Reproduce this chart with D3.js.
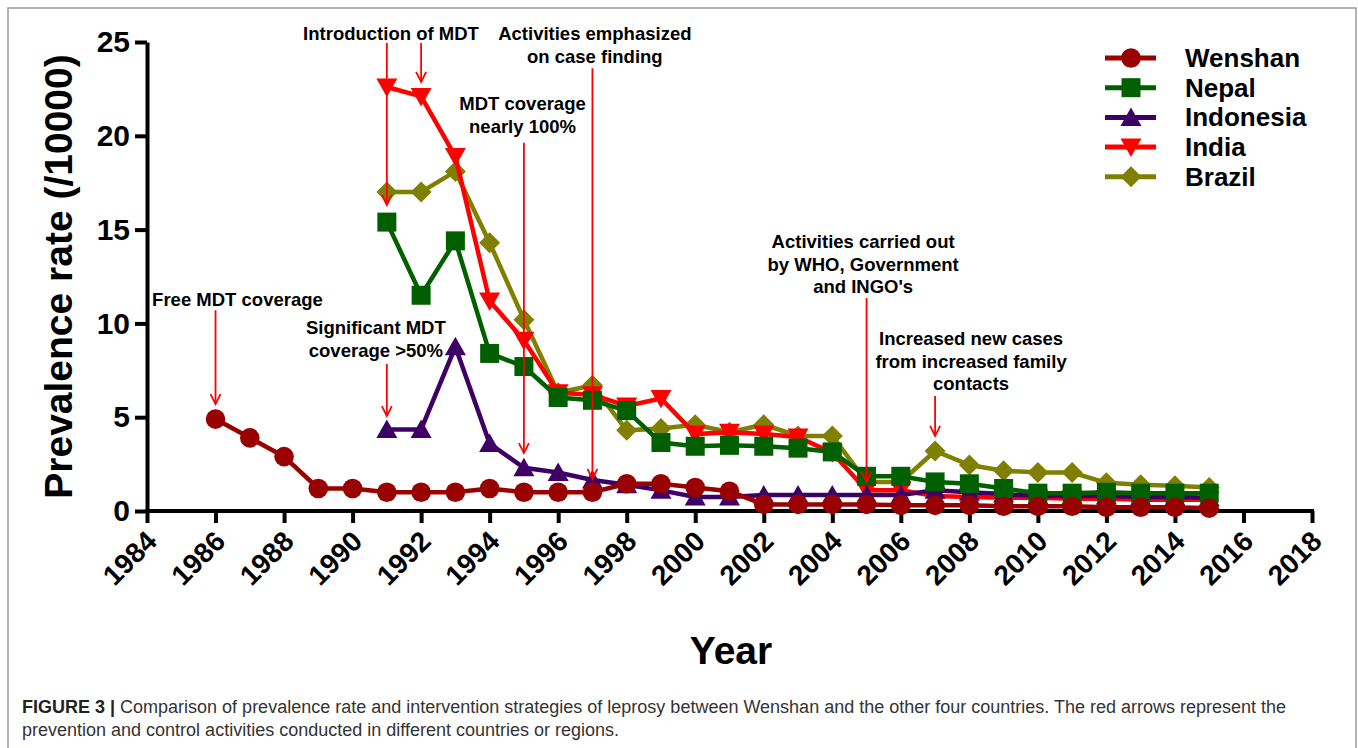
<!DOCTYPE html>
<html>
<head>
<meta charset="utf-8">
<script src="https://cdn.jsdelivr.net/npm/d3@7"></script>
<style>
  html, body { margin: 0; padding: 0; background: #fff; }
  svg { display: block; font-family: "Liberation Sans", Arial, Helvetica, sans-serif; }
</style>
</head>
<body>
<svg id="chart" width="1358" height="748"></svg>
<script>
// ---- data -------------------------------------------------------------
const seriesNames = ["Wenshan", "Nepal", "Indonesia", "India", "Brazil"];
const seriesColors = ["#990000", "#006000", "#3f0066", "#ff0000", "#808000"];
const seriesShapes = ["circle", "square", "triUp", "triDown", "diamond"];

const wenshanYears = d3.range(1986, 2016);
const countryYears = d3.range(1991, 2016);

const wenshan = [4.9, 3.9, 2.9, 1.2, 1.2, 1.0, 1.0, 1.0, 1.2, 1.0, 1.0, 1.0, 1.45, 1.45, 1.25,
                 1.05, 0.35, 0.35, 0.35, 0.35, 0.3, 0.3, 0.3, 0.25, 0.25, 0.25, 0.2, 0.2, 0.2, 0.15];
const nepal = [15.4, 11.5, 14.4, 8.4, 7.7, 6.05, 5.9, 5.35, 3.65, 3.45, 3.5, 3.45, 3.35, 3.15,
               1.85, 1.85, 1.55, 1.45, 1.2, 0.95, 0.95, 1.0, 0.95, 0.95, 0.95];
const indonesia = [4.35, 4.35, 8.75, 3.6, 2.3, 2.05, 1.65, 1.4, 1.1, 0.75, 0.75, 0.85, 0.85, 0.85,
                   0.85, 0.85, 1.1, 1.0, 0.9, 0.8, 0.8, 0.8, 0.75, 0.75, 0.7];
const india = [22.6, 22.1, 18.9, 11.2, 9.1, 6.3, 6.2, 5.6, 6.0, 4.1, 4.2, 4.1, 3.95, 3.1,
               1.1, 1.1, 0.8, 0.75, 0.7, 0.7, 0.65, 0.65, 0.6, 0.6, 0.6];
const brazil = [17.0, 17.0, 18.1, 14.3, 10.2, 6.3, 6.7, 4.3, 4.4, 4.6, 4.2, 4.6, 4.0, 4.0,
                1.55, 1.55, 3.2, 2.45, 2.15, 2.05, 2.05, 1.5, 1.4, 1.35, 1.25];

const xTickValues = d3.range(1984, 2019, 2);
const yTickValues = [0, 5, 10, 15, 20, 25];

// intervention notes: text lines, text centre (year), first baseline (rate)
const noteLines = [
  ["Free MDT coverage"],
  ["Significant MDT", "coverage >50%"],
  ["Introduction of MDT"],
  ["Activities emphasized", "on case finding"],
  ["MDT coverage", "nearly 100%"],
  ["Activities carried out", "by WHO, Government", "and INGO's"],
  ["Increased new cases", "from increased family", "contacts"]
];
const noteYear = [1986.64, 1990.68, 1991.12, 1997.07, 1994.96, 2004.9, 2008.05];
const noteRate = [10.93, 9.43, 25.1, 25.1, 21.38, 14.02, 8.85];

// red arrows: year, start rate, tip rate
const arrowYear = [1986, 1991, 1991, 1992, 1997, 1995, 2005, 2007];
const arrowFrom = [10.7, 7.84, 24.95, 24.95, 23.6, 19.63, 11.35, 6.13];
const arrowTo   = [5.7, 5.06, 16.31, 22.87, 1.71, 3.09, 1.55, 4.0];

const captionBold = "FIGURE 3 |";
const captionLine1 = " Comparison of prevalence rate and intervention strategies of leprosy between Wenshan and the other four countries. The red arrows represent the";
const captionLine2 = "prevention and control activities conducted in different countries or regions.";

// ---- layout -----------------------------------------------------------
const svg = d3.select("#chart");
const x = d3.scaleLinear().domain([1984, 2018]).range([147, 1312]);
const y = d3.scaleLinear().domain([0, 25]).range([511, 42]);

// figure frame (open at the bottom)
svg.append("path")
  .attr("d", "M8,748 V8 H1356 V748")
  .attr("fill", "none").attr("stroke", "#9a9a9a").attr("stroke-width", 1.5);

function shapePath(kind) {
  const p = d3.path();
  switch (kind) {
    case "circle": p.arc(0, 0, 9.8, 0, 2 * Math.PI); break;
    case "square": p.rect(-9.5, -9.5, 19, 19); break;
    case "triUp": p.moveTo(0, -10); p.lineTo(10.5, 8.5); p.lineTo(-10.5, 8.5); p.closePath(); break;
    case "triDown": p.moveTo(0, 10); p.lineTo(10.5, -8.5); p.lineTo(-10.5, -8.5); p.closePath(); break;
    case "diamond": p.moveTo(0, -10.5); p.lineTo(10.5, 0); p.lineTo(0, 10.5); p.lineTo(-10.5, 0); p.closePath(); break;
  }
  return p.toString();
}

// ---- axes -------------------------------------------------------------
const yAxis = d3.axisLeft(y).tickValues(yTickValues).tickSize(12).tickSizeOuter(0).tickPadding(5);
const gy = svg.append("g").attr("transform", "translate(147,0)").call(yAxis);
gy.select(".domain").attr("stroke-width", 4).attr("stroke", "#000");
gy.selectAll(".tick line").attr("stroke-width", 4).attr("stroke", "#000");
gy.selectAll(".tick text")
  .attr("font-size", 30).attr("font-weight", "bold").attr("fill", "#000")
  .attr("font-family", "'Liberation Sans', Arial, sans-serif");

const xAxis = d3.axisBottom(x).tickValues(xTickValues).tickSize(12).tickSizeOuter(0).tickFormat(d3.format("d"));
const gx = svg.append("g").attr("transform", "translate(0,511)").call(xAxis);
gx.select(".domain").attr("stroke-width", 4).attr("stroke", "#000").attr("d", `M${x(1984) - 2},0H${x(2018) + 2}`);
gx.selectAll(".tick line").attr("stroke-width", 4).attr("stroke", "#000");
gx.selectAll(".tick text")
  .attr("font-size", 28).attr("font-weight", "bold").attr("fill", "#000")
  .attr("font-family", "'Liberation Sans', Arial, sans-serif")
  .attr("text-anchor", "end").attr("x", null).attr("y", null).attr("dy", null)
  .attr("transform", "translate(11,32) rotate(-45)");

// axis titles
svg.append("text")
  .attr("transform", `translate(72,${(y(0) + y(25)) / 2}) rotate(-90)`)
  .attr("text-anchor", "middle")
  .attr("font-size", 39).attr("font-weight", "bold")
  .text("Prevalence rate (/10000)");

svg.append("text")
  .attr("x", 731).attr("y", 664)
  .attr("text-anchor", "middle")
  .attr("font-size", 39).attr("font-weight", "bold")
  .text("Year");

// ---- series (drawn back to front) ------------------------------------
const seriesValues = [wenshan, nepal, indonesia, india, brazil];
const seriesYears = [wenshanYears, countryYears, countryYears, countryYears, countryYears];
const line = d3.line().x(d => x(d[0])).y(d => y(d[1]));

const drawOrder = [4, 3, 2, 1, 0];
drawOrder.forEach(i => {
  const pts = seriesYears[i].map((yr, k) => [yr, seriesValues[i][k]]);
  const g = svg.append("g");
  g.append("path").attr("d", line(pts))
    .attr("fill", "none").attr("stroke", seriesColors[i])
    .attr("stroke-width", 4.5).attr("stroke-linejoin", "miter");
  g.selectAll("path.mk").data(pts).join("path")
    .attr("class", "mk")
    .attr("d", shapePath(seriesShapes[i]))
    .attr("transform", d => `translate(${x(d[0])},${y(d[1])})`)
    .attr("fill", seriesColors[i]);
});

// ---- annotations ------------------------------------------------------
const notes = svg.append("g")
  .attr("font-size", 18.5).attr("font-weight", "bold").attr("fill", "#000")
  .attr("text-anchor", "middle");
noteLines.forEach((lines, i) => {
  const t = notes.append("text").attr("x", x(noteYear[i])).attr("y", y(noteRate[i]));
  lines.forEach((s, k) => {
    t.append("tspan").attr("x", x(noteYear[i])).attr("dy", k === 0 ? 0 : 22.7).text(s);
  });
});

const arrows = svg.append("g").attr("stroke", "#ff0000").attr("stroke-width", 1.8).attr("fill", "none");
arrowYear.forEach((yr, i) => {
  const ax = x(yr), y0 = y(arrowFrom[i]), y1 = y(arrowTo[i]);
  arrows.append("line").attr("x1", ax).attr("x2", ax).attr("y1", y0).attr("y2", y1);
  arrows.append("path").attr("d", `M${ax - 5},${y1 - 10}L${ax},${y1}L${ax + 5},${y1 - 10}`);
});

// ---- legend -----------------------------------------------------------
const legend = svg.append("g").attr("transform", "translate(1105,58)");
seriesNames.forEach((name, i) => {
  const row = legend.append("g").attr("transform", `translate(0,${i * 29.7})`);
  row.append("line").attr("x1", 0).attr("x2", 51).attr("y1", 0).attr("y2", 0)
    .attr("stroke", seriesColors[i]).attr("stroke-width", 5);
  row.append("path").attr("d", shapePath(seriesShapes[i]))
    .attr("transform", "translate(26,0)").attr("fill", seriesColors[i]);
  row.append("text").attr("x", 80).attr("y", 9)
    .attr("font-size", 26).attr("font-weight", "bold").text(name);
});

// ---- caption ----------------------------------------------------------
const cap = svg.append("g").attr("font-size", 18).attr("fill", "#333");
const c1 = cap.append("text").attr("x", 22).attr("y", 713);
c1.append("tspan").attr("font-weight", "bold").attr("fill", "#222").text(captionBold);
c1.append("tspan").text(captionLine1);
cap.append("text").attr("x", 22).attr("y", 736).text(captionLine2);
</script>
</body>
</html>
